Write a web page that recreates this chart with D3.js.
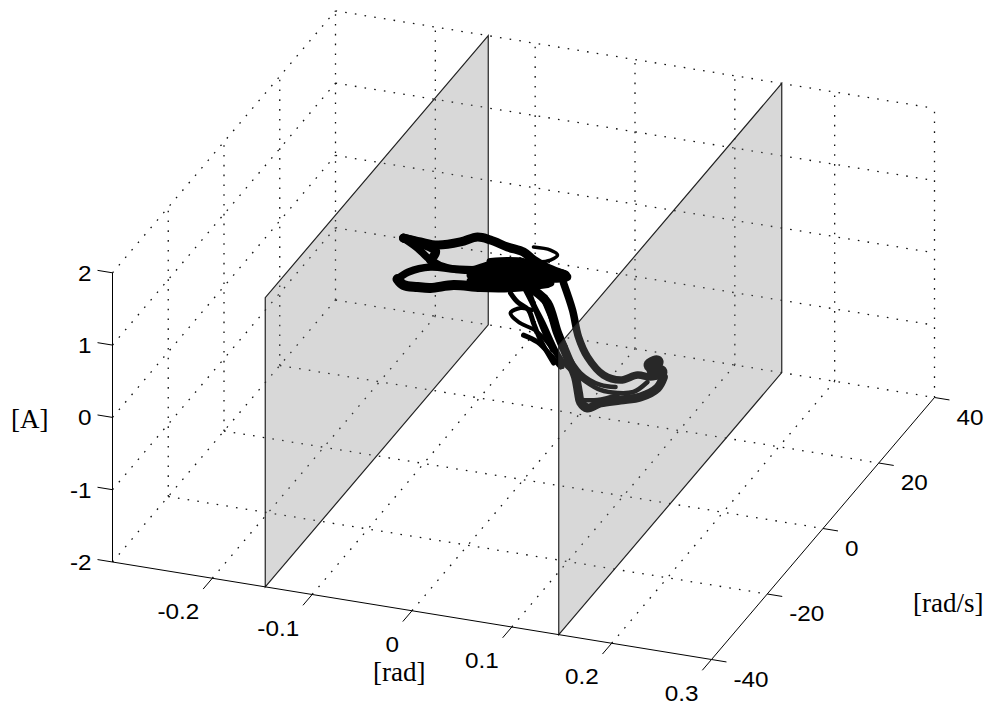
<!DOCTYPE html>
<html>
<head>
<meta charset="utf-8">
<title>Phase trajectory between two walls</title>
<script src="https://d3js.org/d3.v7.min.js"></script>
<style>
    body { margin: 0; background: #fff; }
    .tick-label { font: 21.5px "Liberation Sans", sans-serif; fill: #000; }
    .axis-title { font: 27px "Liberation Serif", serif; fill: #000; }
</style>
</head>
<body>
<svg width="989" height="716"></svg>
<script>
// axis ticks
const thetaTicks = [-0.3, -0.2, -0.1, 0, 0.1, 0.2, 0.3];
const omegaTicks = [-40, -20, 0, 20, 40];
const currentTicks = [-2, -1, 0, 1, 2];
const thetaLabels = ["", "-0.2", "-0.1", "0", "0.1", "0.2", "0.3"];
const wallThetas = [-0.147, 0.147];

// trajectory. depth can't be read so omega is kept at one level
const trajectoryOmega = 0;

const thetaUpper = [-0.1202, -0.1032, -0.0861, -0.0631, -0.0461, -0.0331, -0.016, 0, 0.01, 0.024, 0.0421];
const currentUpper = [1.073, 1.057, 1.053, 1.147, 1.254, 1.242, 1.183, 1.149, 1.062, 0.983, 0.927];

const thetaDiag = [-0.1202, -0.1062, -0.0932, -0.0761, -0.0531, -0.0331, -0.01, 0.014];
const currentDiag = [1.073, 0.967, 0.83, 0.758, 0.781, 0.896, 0.92, 0.932];

const thetaTip = [-0.1202, -0.0881, -0.0932];
const currentTip = [1.073, 0.965, 0.83];

const thetaLowerTop = [-0.1262, -0.1152, -0.0932, -0.0701, -0.0431, -0.01, 0.0441];
const currentLowerTop = [0.492, 0.614, 0.733, 0.757, 0.804, 0.878, 0.903];

const thetaLowerBottom = [-0.1262, -0.1202, -0.1062, -0.0932, -0.0701, -0.0431, -0.01, 0.024];
const currentLowerBottom = [0.492, 0.423, 0.427, 0.443, 0.535, 0.568, 0.643, 0.776];

const thetaMass = [-0.0331, -0.016, 0, 0.017, 0.0421, -0.0531, 0.0421, -0.0531, 0.027, -0.0431, 0.007];
const currentMass = [0.938, 0.989, 1.011, 0.967, 0.927, 0.712, 0.885, 0.629, 0.781, 0.582, 0.723];

const thetaSmallLoop = [0.01, 0.027, 0.0341, 0.027, 0.014];
const currentSmallLoop = [1.242, 1.238, 1.185, 1.1, 1.043];

const thetaDownA = [0.0401, 0.0491, 0.0551, 0.0641, 0.0801, 0.0972, 0.1142, 0.1272, 0.1392];
const currentDownA = [0.812, 0.458, 0.098, -0.158, -0.371, -0.402, -0.295, -0.293, -0.238];

const thetaBlob = [0.1272, 0.1332, 0.1302, 0.1372];
const currentBlob = [-0.127, -0.072, -0.189, -0.202];

const thetaReturnB = [0.1402, 0.1342, 0.1172, 0.0972, 0.0771, 0.0641, 0.0571, 0.0551, 0.0521, 0.0441, 0.0341, 0.024, 0.01];
const currentReturnB = [-0.264, -0.429, -0.592, -0.679, -0.765, -0.863, -0.797, -0.676, -0.462, -0.203, 0.107, 0.499, 0.647];

const thetaReturnC = [0.1242, 0.1102, 0.0942, 0.0771, 0.0601, 0.0441, 0.0341, 0.02, 0.01, 0.005];
const currentReturnC = [-0.369, -0.538, -0.589, -0.585, -0.485, -0.342, -0.17, 0.213, 0.467, 0.664];

const thetaReturnD = [0.0922, 0.0771, 0.0571, 0.0401, 0.027, 0.017];
const currentReturnD = [-0.51, -0.516, -0.396, -0.073, 0.311, 0.621];

const thetaLowE = [0.0571, 0.0741, 0.0942];
const currentLowE = [-0.769, -0.73, -0.617];

const thetaLoopF = [0.009, -0.003, -0.013, -0.005, 0.014, 0.0341, 0.0391];
const currentLoopF = [0.368, 0.369, 0.277, 0.17, 0.075, -0.225, -0.353];

const thetaStrandG = [-0.013, -0.006, 0.005, 0.01, 0.017, 0.0301];
const currentStrandG = [0.553, 0.445, 0.36, 0.191, -0.029, -0.318];

const thetaStrandH = [0, 0.014, 0.027, 0.0371];
const currentStrandH = [0.001, -0.064, -0.214, -0.357];

const thetaStrandI = [0.002, 0.012, 0.02, 0.029];
const currentStrandI = [0.629, 0.375, 0.116, -0.14];

const thetaStrandJ = [0.022, 0.0321, 0.0421];
const currentStrandJ = [0.577, 0.185, -0.069];

const strands = [
    [thetaUpper, currentUpper],
    [thetaDiag, currentDiag],
    [thetaTip, currentTip],
    [thetaLowerTop, currentLowerTop],
    [thetaLowerBottom, currentLowerBottom],
    [thetaMass, currentMass],
    [thetaSmallLoop, currentSmallLoop],
    [thetaDownA, currentDownA],
    [thetaBlob, currentBlob],
    [thetaReturnB, currentReturnB],
    [thetaReturnC, currentReturnC],
    [thetaReturnD, currentReturnD],
    [thetaLowE, currentLowE],
    [thetaLoopF, currentLoopF],
    [thetaStrandG, currentStrandG],
    [thetaStrandH, currentStrandH],
    [thetaStrandI, currentStrandI],
    [thetaStrandJ, currentStrandJ]
];
const strandWidths = [9, 7.5, 9, 7.5, 10, 8, 3.5, 7.5, 14, 9, 4.5, 4.5, 4.5, 4, 5, 5, 5, 5];

const svg = d3.select("svg");

// the box is an oblique projection, so each data axis adds its own screen offset
const origin = {x: 112.5, y: 562};
const thetaX = d3.scaleLinear().domain([-0.3, 0.3]).range([0, 599]),
      thetaY = d3.scaleLinear().domain([-0.3, 0.3]).range([0, 97.5]),
      omegaX = d3.scaleLinear().domain([-40, 40]).range([0, 223]),
      omegaY = d3.scaleLinear().domain([-40, 40]).range([0, -262]),
      currentY = d3.scaleLinear().domain([-2, 2]).range([0, -289.2]);

function project(t, w, c) {
    return [origin.x + thetaX(t) + omegaX(w),
            origin.y + thetaY(t) + omegaY(w) + currentY(c)];
}

const line = d3.line();
const smooth = d3.line().curve(d3.curveCatmullRom.alpha(0.5));
const tMin = -0.3, tMax = 0.3, wMin = -40, wMax = 40, cMin = -2, cMax = 2;

// Dotted grid on floor, back wall and left wall, not where the solid axes run
const gridSegments = [];
thetaTicks.forEach(t => {
    if (t !== tMax) gridSegments.push([[t, wMin, cMin], [t, wMax, cMin]]);
    gridSegments.push([[t, wMax, cMin], [t, wMax, cMax]]);
});
omegaTicks.forEach(w => {
    if (w === wMin) return;
    gridSegments.push([[tMin, w, cMin], [tMax, w, cMin]]);
    if (w !== wMax) gridSegments.push([[tMin, w, cMin], [tMin, w, cMax]]);
});
currentTicks.forEach(c => {
    if (c !== cMin) {
        gridSegments.push([[tMin, wMin, c], [tMin, wMax, c]]);
        gridSegments.push([[tMin, wMax, c], [tMax, wMax, c]]);
    }
});

svg.append("g").selectAll("path")
    .data(gridSegments)
    .join("path")
    .attr("d", d => line(d.map(p => project(p[0], p[1], p[2]))))
    .attr("fill", "none")
    .attr("stroke", "#111")
    .attr("stroke-width", 1.3)
    .attr("stroke-dasharray", "1.6 8.2");

function drawWall(t) {
    const corners = [[t, wMin, cMin], [t, wMin, cMax], [t, wMax, cMax], [t, wMax, cMin]];
    svg.append("path")
        .attr("d", line(corners.map(p => project(p[0], p[1], p[2]))) + "Z")
        .attr("fill", "#808080")
        .attr("fill-opacity", 0.31)
        .attr("stroke", "#222")
        .attr("stroke-width", 1.2);
}

// Axes lines and ticks
const axisLines = [
    [[tMin, wMin, cMin], [tMin, wMin, cMax]],
    [[tMin, wMin, cMin], [tMax, wMin, cMin]],
    [[tMax, wMin, cMin], [tMax, wMax, cMin]]
];
const tickThetaLen = 0.015, tickOmegaLen = 3.3;
thetaTicks.slice(1).forEach(t => axisLines.push([[t, wMin, cMin], [t, wMin - tickOmegaLen, cMin]]));
omegaTicks.forEach(w => axisLines.push([[tMax, w, cMin], [tMax + tickThetaLen, w, cMin]]));
currentTicks.forEach(c => axisLines.push([[tMin, wMin, c], [tMin - tickThetaLen, wMin, c]]));

// first wall sits behind the trajectory, the second in front of it
drawWall(wallThetas[0]);

svg.append("g").selectAll("path")
    .data(strands)
    .join("path")
    .attr("d", d => smooth(d[0].map((t, i) => project(t, trajectoryOmega, d[1][i]))))
    .attr("fill", "none")
    .attr("stroke", "#000")
    .attr("stroke-width", (d, i) => strandWidths[i])
    .attr("stroke-linejoin", "round")
    .attr("stroke-linecap", "round");

drawWall(wallThetas[1]);

svg.append("g").selectAll("path")
    .data(axisLines)
    .join("path")
    .attr("d", d => line(d.map(p => project(p[0], p[1], p[2]))))
    .attr("fill", "none")
    .attr("stroke", "#000")
    .attr("stroke-width", 1);

// Tick labels, slightly widened like the original
function tickLabel(pos, dx, dy, anchor, text) {
    svg.append("text")
        .attr("class", "tick-label")
        .attr("text-anchor", anchor)
        .attr("transform", "translate(" + (pos[0] + dx) + "," + (pos[1] + dy) + ") scale(1.13,1)")
        .text(text);
}
thetaTicks.forEach((t, i) => tickLabel(project(t, wMin, cMin), -13, 41, "end", thetaLabels[i]));
omegaTicks.forEach(w => tickLabel(project(tMax, w, cMin), 22, 27, "start", w));
currentTicks.forEach(c => tickLabel(project(tMin, wMin, c), -21, 8, "end", c));

// Axis titles
svg.append("text").attr("class", "axis-title").attr("x", 373).attr("y", 681).text("[rad]");
svg.append("text").attr("class", "axis-title").attr("x", 913).attr("y", 612).text("[rad/s]");
svg.append("text").attr("class", "axis-title").attr("x", 11).attr("y", 428).text("[A]");
</script>
</body>
</html>
